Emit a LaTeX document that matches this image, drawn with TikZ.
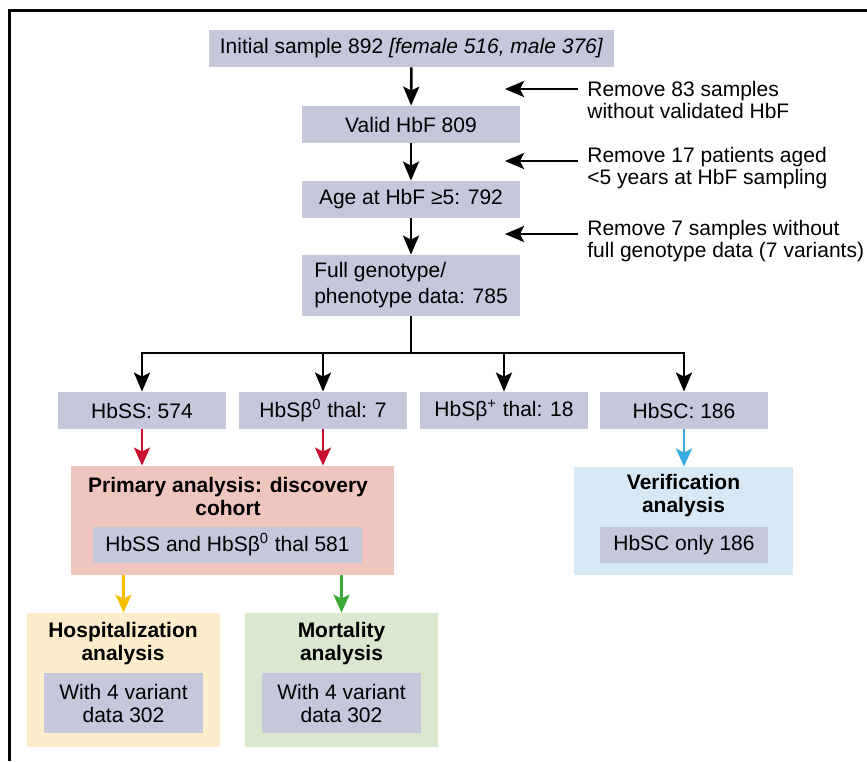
\documentclass[tikz,border=0pt]{standalone}
\usepackage{fontspec}
\setmainfont{Liberation Sans}
\usetikzlibrary{arrows.meta}
\definecolor{boxgray}{RGB}{197,199,219}
\definecolor{primpink}{RGB}{239,198,190}
\definecolor{verblue}{RGB}{215,233,247}
\definecolor{hospyel}{RGB}{253,237,205}
\definecolor{mortgrn}{RGB}{218,232,207}
\definecolor{arrred}{RGB}{200,16,46}
\definecolor{arrblue}{RGB}{59,172,228}
\definecolor{arryel}{RGB}{246,190,0}
\definecolor{arrgrn}{RGB}{58,168,53}
\newcommand{\bzero}{β\textsuperscript{0}}
\tikzset{
  gbox/.style={fill=boxgray, inner sep=0pt, align=center, font=\fontsize{10.5}{11.5}\selectfont},
  rowbox/.style={gbox, minimum width=84pt, minimum height=18.5pt},
  chainbox/.style={gbox, minimum width=109pt, minimum height=18.5pt},
  panel/.style={inner sep=0pt},
  ptitle/.style={font=\fontsize{10.5}{11.5}\selectfont\bfseries, align=center, inner sep=0pt},
  note/.style={font=\fontsize{10.5}{11}\selectfont, align=left, anchor=west, inner sep=0pt},
  flowarr/.style={-{Stealth[length=9.5pt,width=8pt,inset=2pt]}, line width=1.3pt},
  colarr/.style={-{Stealth[length=9pt,width=8pt,inset=2pt]}, line width=1.3pt, #1},
}

\begin{document}
\begin{tikzpicture}[x=0.5pt, y=-0.5pt]
    \useasboundingbox (0,0) rectangle (867,761);
    \draw[line width=1.5pt] (867,10) -- (9,10) -- (9,761);
    % selection chain
    \node[gbox, minimum width=202.5pt, minimum height=18.5pt] (init) at (411.5,48.5) {Initial sample 892 \textit{[female 516, male 376]}};
    \node[chainbox] (valid) at (411,124.5) {Valid HbF 809};
    \node[chainbox] (age) at (411,199.5) {Age at HbF ≥5: 792};
    \node[chainbox, minimum height=30.5pt, align=left,
          font=\fontsize{10.5}{13}\selectfont] (geno) at (411,285.5) {Full genotype/\\phenotype data: 785};
    \draw[flowarr] (init) -- (valid);
    \draw[flowarr] (valid) -- (age);
    \draw[flowarr] (age) -- (geno);
    % exclusions
    \node[note] (rm83) at (587,100) {Remove 83 samples\\without validated HbF};
    \node[note] (rm17) at (587,168.5) {Remove 17 patients aged\\<5 years at HbF sampling};
    \node[note] (rm7) at (587,241) {Remove 7 samples without\\full genotype data (7 variants)};
    \coordinate (x83s) at (578,89);  \coordinate (x83e) at (505,89);
    \coordinate (x17s) at (578,161); \coordinate (x17e) at (505,161);
    \coordinate (x7s) at (578,234);  \coordinate (x7e) at (505,234);
    \draw[flowarr] (x83s) -- (x83e);
    \draw[flowarr] (x17s) -- (x17e);
    \draw[flowarr] (x7s) -- (x7e);
    % genotypes
    \node[rowbox] (hbss) at (142,410.5) {HbSS: 574};
    \node[rowbox] (hbsb0) at (323,410.5) {HbS\bzero{} thal: 7};
    \node[rowbox] (hbsbp) at (504,410.5) {HbSβ\textsuperscript{+} thal: 18};
    \node[rowbox] (hbsc) at (684,410.5) {HbSC: 186};
    \coordinate (split) at (411,353);
    \draw[line width=1.3pt] (geno) -- (split);
    \draw[flowarr] (split) -| (hbss);
    \draw[flowarr] (split) -| (hbsb0);
    \draw[flowarr] (split) -| (hbsbp);
    \draw[flowarr] (split) -| (hbsc);
    % analyses
    \node[panel, fill=primpink, minimum width=161.5pt, minimum height=54.5pt] (prim) at (232.5,520.5) {};
    \node[ptitle] (primT) at (228,496.5) {Primary analysis: discovery\\cohort};
    \node[gbox, minimum width=134.5pt, minimum height=18pt] (primN) at (227.5,545) {HbSS and HbS\bzero{} thal 581};
    \node[panel, fill=verblue, minimum width=109.5pt, minimum height=54pt] (ver) at (683.5,521) {};
    \node[ptitle] (verT) at (683.5,496) {Verification\\analysis};
    \node[gbox, minimum width=84pt, minimum height=18pt] (verN) at (684,545) {HbSC only 186};
    \node[panel, fill=hospyel, minimum width=96.5pt, minimum height=67pt] (hosp) at (123.5,680) {};
    \node[ptitle] (hospT) at (123,643.5) {Hospitalization\\analysis};
    \node[gbox, minimum width=79.5pt, minimum height=30pt] (hospN) at (123.5,703) {With 4 variant\\data 302};
    \node[panel, fill=mortgrn, minimum width=96.5pt, minimum height=67pt] (mort) at (341.5,680) {};
    \node[ptitle] (mortT) at (341.5,643.5) {Mortality\\analysis};
    \node[gbox, minimum width=79.5pt, minimum height=30pt] (mortN) at (341.5,703) {With 4 variant\\data 302};
    \draw[colarr=arrred] (hbss.south) -- (hbss.south |- prim.north);
    \draw[colarr=arrred] (hbsb0.south) -- (hbsb0.south |- prim.north);
    \draw[colarr=arrblue] (hbsc.south) -- (hbsc.south |- ver.north);
    \draw[colarr=arryel] (hosp.north |- prim.south) -- (hosp.north);
    \draw[colarr=arrgrn] (mort.north |- prim.south) -- (mort.north);
\end{tikzpicture}
\end{document}
